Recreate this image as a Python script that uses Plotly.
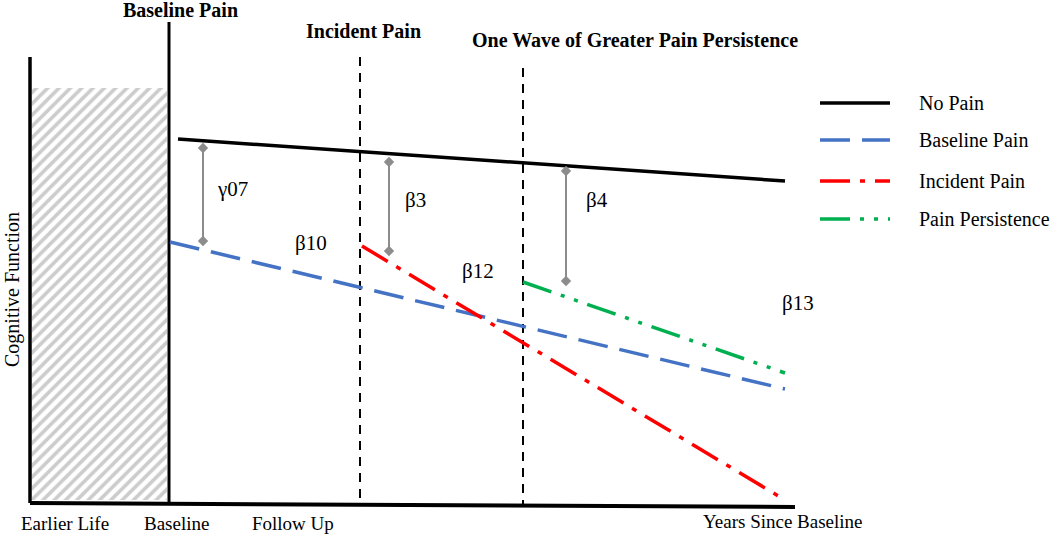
import plotly.graph_objects as go

H = 537  # height of canvas in schematic units (cognitive function scale)

# ---- schematic data (x = time position, y = cognitive function level) ----
series_names = ["No Pain", "Baseline Pain", "Incident Pain", "Pain Persistence"]
series_x = [[178, 785], [170, 785], [362, 780], [523, 785]]
series_y = [[398, 356], [295, 148], [291, 40], [255, 164]]
series_colors = ["#000000", "#4472C4", "#FF0000", "#00B050"]
series_dash = ["solid", "30px,12px", "30px,10px,5px,10px", "30px,10px,4px,10px,4px,10px"]

# effect brackets (gray double-ended)
effect_labels = ["γ07", "β3", "β4"]
effect_x = [203, 389, 566]
effect_top = [389, 375, 366]
effect_bottom = [296, 286, 256]
effect_label_x = [232, 415, 597]
effect_label_y = [348, 337, 337]

# slope labels
slope_labels = ["β10", "β12", "β13"]
slope_x = [311, 478, 798]
slope_y = [294, 266, 234]

# event markers (vertical lines)
event_titles = ["Baseline Pain", "Incident Pain", "One Wave of Greater Pain Persistence"]
event_x = [169, 360, 523]
event_top = [515, 480, 469]
event_bottom = [34, 34, 30]
event_title_x = [180, 363, 635]
event_title_y = [527, 506, 497]

# time axis labels
time_labels = ["Earlier Life", "Baseline", "Follow Up", "Years Since Baseline"]
time_label_x = [65, 176, 293, 783]
time_label_y = [14, 14, 14, 16]

# axes and earlier-life region
yaxis_x = [30, 30]
yaxis_y = [480, 34]
xaxis_x = [30, 795]
xaxis_y = [34, 30]
earlier_x = [32, 167]
earlier_y = [37, 449]

# legend rows
legend_y = [434, 397, 356, 318]
legend_line_x = [820, 890]
legend_text_x = 917

FONT = "Liberation Serif"

fig = go.Figure()

# earlier life hatched region
fig.add_trace(go.Scatter(
    x=[earlier_x[0], earlier_x[1], earlier_x[1], earlier_x[0], earlier_x[0]],
    y=[earlier_y[0], earlier_y[0], earlier_y[1], earlier_y[1], earlier_y[0]],
    mode="lines", line=dict(width=0, color="rgba(0,0,0,0)"),
    fill="toself", fillcolor="white",
    fillpattern=dict(shape="/", fgcolor="#999999", bgcolor="white", size=8, solidity=0.45),
    showlegend=False, hoverinfo="skip"))

# axes
fig.add_trace(go.Scatter(x=yaxis_x, y=yaxis_y, mode="lines",
                         line=dict(color="black", width=3.5), showlegend=False, hoverinfo="skip"))
fig.add_trace(go.Scatter(x=xaxis_x, y=xaxis_y, mode="lines",
                         line=dict(color="black", width=4), showlegend=False, hoverinfo="skip"))

# event lines
for i in range(len(event_x)):
    fig.add_trace(go.Scatter(
        x=[event_x[i], event_x[i]], y=[event_top[i], event_bottom[i]], mode="lines",
        line=dict(color="black", width=3 if i == 0 else 2, dash="solid" if i == 0 else "9px,7px"),
        showlegend=False, hoverinfo="skip"))
    fig.add_annotation(x=event_title_x[i], y=event_title_y[i], text="<b>%s</b>" % event_titles[i],
                       showarrow=False, font=dict(family=FONT, size=20, color="black"))

# series
for i in range(len(series_names)):
    fig.add_trace(go.Scatter(
        x=series_x[i], y=series_y[i], mode="lines", name=series_names[i],
        line=dict(color=series_colors[i], width=3.5, dash=series_dash[i]),
        showlegend=False, hoverinfo="skip"))

# effect brackets
for i in range(len(effect_x)):
    fig.add_trace(go.Scatter(
        x=[effect_x[i], effect_x[i]], y=[effect_top[i], effect_bottom[i]], mode="lines+markers",
        line=dict(color="#8c8c8c", width=2),
        marker=dict(symbol="diamond", size=8, color="#8c8c8c"),
        showlegend=False, hoverinfo="skip"))
    fig.add_annotation(x=effect_label_x[i], y=effect_label_y[i], text=effect_labels[i],
                       showarrow=False, font=dict(family=FONT, size=21, color="black"))

for i in range(len(slope_labels)):
    fig.add_annotation(x=slope_x[i], y=slope_y[i], text=slope_labels[i],
                       showarrow=False, font=dict(family=FONT, size=21, color="black"))

# time axis labels
for i in range(len(time_labels)):
    fig.add_annotation(x=time_label_x[i], y=time_label_y[i], text=time_labels[i],
                       showarrow=False, font=dict(family=FONT, size=19, color="black"))

# y axis title
fig.add_annotation(x=12, y=H - 290, text="Cognitive Function", textangle=-90,
                   showarrow=False, font=dict(family=FONT, size=20, color="black"))

# manual legend
for i in range(len(series_names)):
    fig.add_trace(go.Scatter(
        x=legend_line_x, y=[legend_y[i], legend_y[i]], mode="lines",
        line=dict(color=series_colors[i], width=3.5, dash=series_dash[i]),
        showlegend=False, hoverinfo="skip"))
    fig.add_annotation(x=legend_text_x, y=legend_y[i], text=series_names[i], xanchor="left",
                       showarrow=False, font=dict(family=FONT, size=20, color="black"))

fig.update_layout(
    width=1050, height=537,
    margin=dict(l=0, r=0, t=0, b=0),
    paper_bgcolor="white", plot_bgcolor="white",
    xaxis=dict(range=[0, 1050], visible=False, fixedrange=True),
    yaxis=dict(range=[0, H], visible=False, fixedrange=True),
    showlegend=False,
    hovermode=False,
)

fig.write_html("out.html", config={"displayModeBar": False},
               post_script="document.body.style.margin='0';document.body.style.overflow='hidden';")
